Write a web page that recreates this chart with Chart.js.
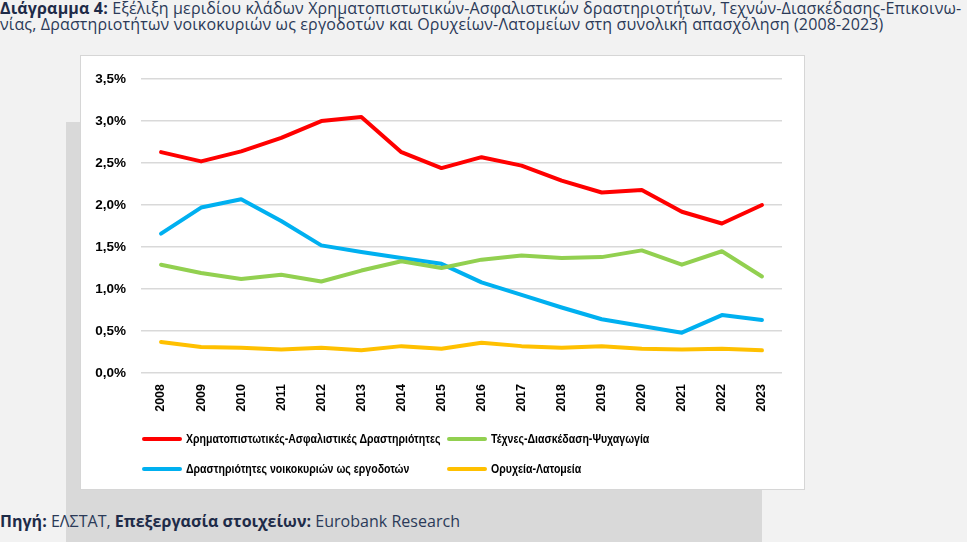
<!DOCTYPE html>
<html>
<head>
<meta charset="utf-8">
<script src="https://cdn.jsdelivr.net/npm/chart.js@4.4.1/dist/chart.umd.min.js"></script>
<style>
  html, body { margin:0; padding:0; }
  body { width:967px; height:542px; background:#f2f2f2; position:relative; overflow:hidden; font-family:"Open Sans", sans-serif; color:#2b3a58; }
  #title { position:absolute; left:0; top:0; font-size:16px; line-height:16px; white-space:nowrap; letter-spacing:0.15px; }
  #title b, #foot b { color:#1e2b48; }
  #greybox { position:absolute; left:66px; top:122px; width:696px; height:420px; background:#d9d9d9; }
  #card { position:absolute; left:80px; top:55px; width:723px; height:433px; background:#fff; border:1px solid #d6d6d6; }
  #chartwrap { position:absolute; left:0; top:0; width:723px; height:433px; }
  #foot { position:absolute; left:0; top:512px; font-size:16px; line-height:18px; white-space:nowrap; letter-spacing:0.03px; }
  .lg { position:absolute; font-family:"Liberation Sans",sans-serif; font-weight:bold; font-size:12px; color:#000; white-space:nowrap; display:flex; align-items:center; }
  .lg span.mk { display:inline-block; width:40px; height:4.5px; border-radius:2px; margin-right:4px; }
  .lg span.tx { display:inline-block; transform:scaleX(0.88); transform-origin:left center; }
</style>
</head>
<body>
<div id="title"><b>Διάγραμμα 4:</b> Εξέλιξη μεριδίου κλάδων Χρηματοπιστωτικών-Ασφαλιστικών δραστηριοτήτων, Τεχνών-Διασκέδασης-Επικοινω-<br>νίας, Δραστηριοτήτων νοικοκυριών ως εργοδοτών και Ορυχείων-Λατομείων στη συνολική απασχόληση (2008-2023)</div>
<div id="greybox"></div>
<div id="card"><div id="chartwrap"><canvas id="c"></canvas></div><div id="legend"></div></div>
<div id="foot"><b>Πηγή:</b> ΕΛΣΤΑΤ, <b>Επεξεργασία στοιχείων:</b> Eurobank Research</div>
<script>
const years = ["2008","2009","2010","2011","2012","2013","2014","2015","2016","2017","2018","2019","2020","2021","2022","2023"];
const finance = [2.63,2.52,2.64,2.80,3.00,3.05,2.63,2.44,2.57,2.47,2.29,2.15,2.18,1.92,1.78,2.00];
const arts = [1.29,1.19,1.12,1.17,1.09,1.22,1.33,1.25,1.35,1.40,1.37,1.38,1.46,1.29,1.45,1.15];
const households = [1.66,1.97,2.07,1.81,1.52,1.44,1.37,1.30,1.08,0.93,0.78,0.64,0.56,0.48,0.69,0.63];
const mining = [0.37,0.31,0.30,0.28,0.30,0.27,0.32,0.29,0.36,0.32,0.30,0.32,0.29,0.28,0.29,0.27];
const seriesNames = ["Χρηματοπιστωτικές-Ασφαλιστικές Δραστηριότητες","Τέχνες-Διασκέδαση-Ψυχαγωγία","Δραστηριότητες νοικοκυριών ως εργοδοτών","Ορυχεία-Λατομεία"];
const yTicks = [0,0.5,1.0,1.5,2.0,2.5,3.0,3.5];

const colors = ["#ff0000","#92d050","#00b0f0","#ffc000"];
const mk = (i, data) => ({ label: seriesNames[i], data, borderColor: colors[i], backgroundColor: colors[i], borderWidth: 4, pointRadius: 0, tension: 0, fill: false, borderCapStyle:'round', borderJoinStyle:'round' });

const chart = new Chart(document.getElementById('c'), {
  type: 'line',
  data: { labels: years, datasets: [mk(0, finance), mk(1, arts), mk(2, households), mk(3, mining)] },
  options: {
    responsive: true, maintainAspectRatio: false, animation: false,
    layout: { padding: { top: 22, right: 22, bottom: 70, left: 0 } },
    plugins: { legend: { display: false }, tooltip: { enabled: false } },
    scales: {
      x: {
        offset: true,
        grid: { display: false, drawTicks: false },
        border: { display: false },
        ticks: { minRotation: 90, maxRotation: 90, padding: 11, color: '#000', font: { family: 'Liberation Sans', weight: 'bold', size: 12.5 } },
        afterFit: s => { s.height = 46; }
      },
      y: {
        min: 0, max: 3.5,
        afterBuildTicks: s => { s.ticks = yTicks.map(v => ({ value: v })); },
        grid: { color: '#d9d9d9', lineWidth: 1.5, drawTicks: false },
        border: { display: false },
        ticks: { padding: 15, color: '#000', font: { family: 'Liberation Sans', weight: 'bold', size: 13.5 },
                 callback: v => v.toFixed(1).replace('.', ',') + '%' },
        afterFit: s => { s.width = 60; }
      }
    }
  }
});

// HTML legend built from the chart's datasets (2x2 grid)
const lgPos = [[61, 383], [366, 383], [61, 413], [366, 413]];
const legend = document.getElementById('legend');
chart.data.datasets.forEach((ds, i) => {
  const d = document.createElement('div');
  d.className = 'lg';
  d.style.left = lgPos[i][0] + 'px';
  d.style.top = (lgPos[i][1] - 8) + 'px';
  d.style.height = '16px';
  d.innerHTML = '<span class="mk" style="background:' + ds.borderColor + '"></span>';
  const t = document.createElement('span');
  t.className = 'tx';
  t.textContent = ds.label;
  d.appendChild(t);
  legend.appendChild(d);
});
</script>
</body>
</html>
